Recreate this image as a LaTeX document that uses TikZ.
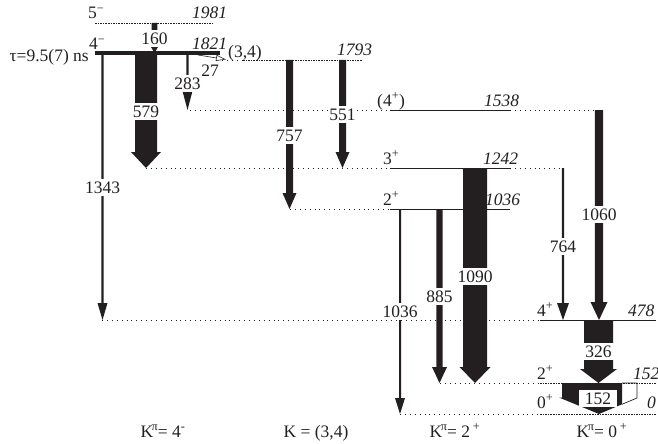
\documentclass[tikz,border=0pt]{standalone}
\usepackage{fontspec}
\setmainfont{Liberation Serif}
\usetikzlibrary{arrows.meta}
\definecolor{ink}{RGB}{35,31,32}
\newcommand\gtr[8]{% x, ytop, ybot, halfwidth, headhalfwidth, headlength, labely, label
  \fill[ink] ({#1-#4},#2) -- ({#1+#4},#2) -- ({#1+#4},{#3-#6}) -- ({#1+#5},{#3-#6}) -- (#1,#3)
     -- ({#1-#5},{#3-#6}) -- ({#1-#4},{#3-#6}) -- cycle;
  \node[gamlab, minimum width={(2*#4+3)*1pt}] (g#8) at (#1,#7) {#8};}
\begin{document}
\begin{tikzpicture}[x=1pt,y=-1pt,
  every node/.style={font=\fontsize{17.5}{20}\selectfont, text=ink, inner sep=0pt},
  gamlab/.style={fill=white, inner xsep=1pt, text height=12pt, text depth=0pt, inner ysep=2.5pt},
  lvlsolid/.style={draw=ink, line width=1pt},
  lvldash/.style={draw=ink, line width=0.8pt, dash pattern=on 1.6pt off 1pt},
  lvldot/.style={draw=ink, line width=0.9pt, dash pattern=on 0.9pt off 4pt},
  enlab/.style={anchor=base west, font=\fontsize{17.5}{20}\selectfont\itshape},
  jplab/.style={anchor=base west}]
\useasboundingbox (0,0) rectangle (658,444);
% levels
\draw[lvldash] (95,23) -- (213,23);
\draw[ink, line width=4pt] (95,53.5) -- (220,53.5);
\draw[lvldot] (222,60) -- (243,60);
\draw[lvldash] (243,60) -- (362,60);
\draw[lvldot] (190,110) -- (390,110);
\draw[lvlsolid] (390,110) -- (510,110);
\draw[lvldot] (510,110) -- (594,110);
\draw[lvldot] (146,168) -- (390,168);
\draw[lvlsolid] (390,168) -- (510,168);
\draw[lvldot] (510,168) -- (563,168);
\draw[lvldot] (290,209) -- (390,209);
\draw[lvlsolid] (390,209) -- (510,209);
\draw[lvldot] (102,320) -- (540,320);
\draw[lvlsolid] (540,320) -- (656,320);
\draw[lvldot] (440,383.5) -- (540,383.5);
\draw[lvldash] (540,383.5) -- (656,383.5);
\draw[lvldot] (400,414) -- (540,414);
\draw[lvldash] (540,414) -- (656,414);
% transitions
\gtr{154.5}{23}{53}{2.8}{3.5}{6}{39}{160}
\gtr{146}{53}{168}{11}{15}{16}{111.5}{579}
\gtr{187.5}{53}{110}{1.1}{5}{19}{83}{283}
\gtr{102.5}{53}{320}{1.2}{5}{17}{187}{1343}
\gtr{289.5}{60}{209}{3.5}{7}{16}{135}{757}
\gtr{342.5}{60}{168}{3.5}{7}{16}{114.5}{551}
\gtr{599}{110}{320}{4.2}{8.5}{18}{214}{1060}
\gtr{563}{168}{320}{1.2}{6}{17}{246}{764}
\gtr{475}{168}{383}{12}{15.5}{16}{276}{1090}
\gtr{439.5}{209}{383}{3.2}{7.5}{16}{296}{885}
\gtr{400}{209}{414}{1}{5}{16}{311}{1036}
\gtr{598.5}{320}{383}{14.5}{18.5}{14}{351.5}{326}
% 152 transition with conversion part
\fill[ink] (562,383) -- (622,383) -- (622,404.3) -- (599,414) -- (559,397.5) -- (562,397.5) -- cycle;
\draw[ink, line width=0.7pt] (622,383) -- (637,383) -- (637,398) -- (622,404.3);
\node[gamlab, minimum width=38pt] (g152) at (598,398) {152};
% 27 keV
\draw[ink, line width=0.6pt, -{Triangle[open, length=10pt, width=6pt]}] (198,55) -- (226,59.5);
\node (g27) at (210,71) {27};
% level labels
\node[anchor=base east] (tau) at (89,62) {τ=9.5(7) ns};
\node[jplab] (j5m) at (88,19) {5\textsuperscript{−}};
\node[jplab] (j4m) at (89,50) {4\textsuperscript{−}};
\node[enlab] (e1981) at (192,19) {1981};
\node[enlab] (e1821) at (192,50) {1821};
\node[jplab] (j34) at (228,57) {(3,4)};
\node[enlab] (e1793) at (337,56) {1793};
\node[jplab] (j4p) at (377,106) {(4\textsuperscript{+})};
\node[enlab] (e1538) at (484,106) {1538};
\node[jplab] (j3p) at (383,164) {3\textsuperscript{+}};
\node[enlab] (e1242) at (483,164) {1242};
\node[jplab] (j2p) at (383,205) {2\textsuperscript{+}};
\node[enlab] (e1036) at (485,205) {1036};
\node[jplab] (j4pg) at (537,316) {4\textsuperscript{+}};
\node[enlab] (e478) at (628,316) {478};
\node[jplab] (j2pg) at (537,379) {2\textsuperscript{+}};
\node[enlab] (e152) at (633,379) {152};
\node[jplab] (j0p) at (537,408) {0\textsuperscript{+}};
\node[enlab] (e0) at (647,408) {0};
% band labels
\node[anchor=base] (k1) at (163,437) {K\kern-1.5pt\textsuperscript{π}\kern-0.5pt= 4\textsuperscript{-}};
\node[anchor=base] (k2) at (316,437) {K = (3,4)};
\node[anchor=base] (k3) at (455,437) {K\kern-1.5pt\textsuperscript{π}\kern-0.5pt= 2\,\textsuperscript{+}};
\node[anchor=base] (k4) at (602,437) {K\kern-1.5pt\textsuperscript{π}\kern-0.5pt= 0\,\textsuperscript{+}};
\end{tikzpicture}
\end{document}
